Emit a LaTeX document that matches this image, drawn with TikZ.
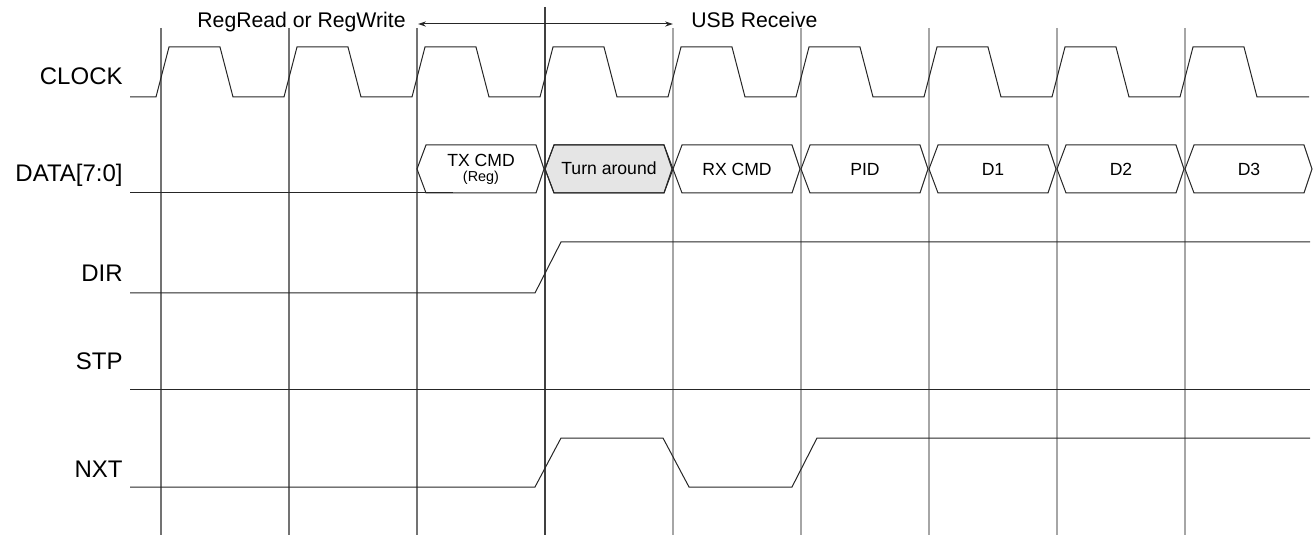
\documentclass[tikz,border=0pt]{standalone}
\usepackage{fontspec}
\setmainfont{Liberation Sans}
\usetikzlibrary{arrows.meta}
\tikzset{
  sig/.style={draw=black!85,line width=0.5pt},
  tick/.style={draw=black!35,line width=0.6pt},
  lbl/.style={anchor=base east,inner sep=0pt,font=\fontsize{12}{14}\selectfont},
  bus/.style={anchor=base,inner sep=0pt,font=\fontsize{8.8}{10}\selectfont},
  top/.style={inner sep=0pt,font=\fontsize{10.6}{12}\selectfont},
}
\begin{document}
\begin{tikzpicture}[x=0.5pt,y=-0.5pt]
    \useasboundingbox (0,0) rectangle (1314,535);

    % clock edges
    \foreach \x in {161,289,417} \draw[tick,draw=black!55] (\x,28) -- (\x,535);
    \foreach \x in {673,801,929,1057,1185} \draw[tick] (\x,28) -- (\x,535);
    \draw[line width=0.7pt,black!75] (545,7) -- (545,535);

    % signal names
    \node[lbl] (clk) at (123,85) {CLOCK};
    \node[lbl] (data) at (123,182) {DATA[7:0]};
    \node[lbl] (dir) at (123,282) {DIR};
    \node[lbl] (stp) at (123,369) {STP};
    \node[lbl] (nxt) at (123,477) {NXT};

    % phases
    \node[top,anchor=base east] (regrw) at (406,28) {RegRead or RegWrite};
    \node[top,anchor=base west] (usbrx) at (691,28) {USB Receive};
    \coordinate (arrL) at (418,24);
    \coordinate (arrR) at (673,24);
    \draw[sig,{Stealth[length=4pt,width=2.6pt]}-{Stealth[length=4pt,width=2.6pt]}] (arrL) -- (arrR);

    % CLOCK
    \draw[sig] (130,97) \foreach \b in {156,284,...,1180} { -- (\b,97) -- ({\b+13},47) -- ({\b+64},47) -- ({\b+77},97) } -- (1309,97);

    % DATA[7:0]
    \draw[sig] (130,193) -- (453,193);
    \filldraw[sig,fill=black!10] (545,169) -- ++(9,-24) -- (664,145) -- (673,169) -- (664,193) -- (554,193) -- cycle;
    \foreach \s in {417,545,...,1185}
        \draw[sig] (\s,169) -- ++(9,-24) -- ({\s+119},145) -- ({\s+127},169) -- ({\s+119},193) -- ({\s+9},193) -- cycle;
    \node[bus] (txcmd) at (481,167) {TX CMD};
    \node[bus,font=\fontsize{7.2}{8}\selectfont] (reg) at (481,182) {(Reg)};
    \node[bus] (turn) at (609,175) {Turn around};
    \foreach \x/\n/\t in {737/rxcmd/RX CMD,865/pid/PID,993/d1/D1,1121/d2/D2,1249/d3/D3}
        \node[bus] (\n) at (\x,176) {\t};

    % DIR, STP, NXT
    \draw[sig] (130,293) -- (535,293) -- (561,242) -- (1310,242);
    \draw[sig] (130,389) -- (1310,389);
    \draw[sig] (130,487) -- (535,487) -- (561,438) -- (663,438) -- (689,487) -- (792,487) -- (817,438) -- (1310,438);
\end{tikzpicture}
\end{document}
